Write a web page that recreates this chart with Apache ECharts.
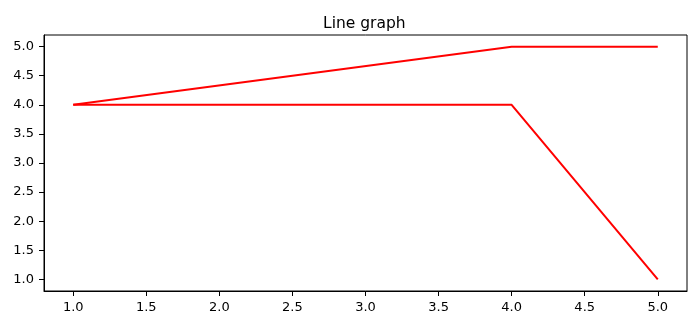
<!DOCTYPE html>
<html>
<head>
<meta charset="utf-8">
<script src="https://cdn.jsdelivr.net/npm/echarts@6/dist/echarts.min.js"></script>
<style>html,body{margin:0;padding:0;background:#fff;}#c{width:700px;height:327px;}</style>
</head>
<body>
<div id="c"></div>
<script>
var xUpper = [1, 4, 5];
var yUpper = [4, 5, 5];
var xLower = [1, 4, 5];
var yLower = [4, 4, 1];
var xTicks = [1.0, 1.5, 2.0, 2.5, 3.0, 3.5, 4.0, 4.5, 5.0];
var yTicks = [1.0, 1.5, 2.0, 2.5, 3.0, 3.5, 4.0, 4.5, 5.0];

function pairs(xs, ys) { return xs.map(function (x, i) { return [x, ys[i]]; }); }

var font = 'DejaVu Sans';
var chart = echarts.init(document.getElementById('c'), null, {renderer: 'canvas'});
chart.setOption({
  animation: false,
  backgroundColor: '#fff',
  title: {
    text: 'Line graph', left: 318, top: 11,
    textStyle: {fontFamily: font, fontSize: 15.5, fontWeight: 'normal', color: '#000'}
  },
  grid: {left: 44, right: 13, top: 35, bottom: 36, show: true, borderColor: '#000', borderWidth: 1, containLabel: false},
  xAxis: {
    type: 'value', min: 0.8, max: 5.2,
    splitLine: {show: false},
    axisLine: {show: true, lineStyle: {color: '#000', width: 1}},
    axisTick: {show: true, length: 5, customValues: xTicks, lineStyle: {color: '#000'}},
    axisLabel: {customValues: xTicks, margin: 10, color: '#000', fontFamily: font, fontSize: 13,
      formatter: function (v) { return v.toFixed(1); }}
  },
  yAxis: {
    type: 'value', min: 0.8, max: 5.2,
    splitLine: {show: false},
    axisLine: {show: true, lineStyle: {color: '#000', width: 1}},
    axisTick: {show: true, length: 5, customValues: yTicks, lineStyle: {color: '#000'}},
    axisLabel: {customValues: yTicks, margin: 10, color: '#000', fontFamily: font, fontSize: 13,
      formatter: function (v) { return v.toFixed(1); }}
  },
  series: [
    {type: 'line', data: pairs(xUpper, yUpper), showSymbol: false, lineStyle: {color: '#ff0000', width: 2}},
    {type: 'line', data: pairs(xLower, yLower), showSymbol: false, lineStyle: {color: '#ff0000', width: 2}}
  ]
});
</script>
</body>
</html>
